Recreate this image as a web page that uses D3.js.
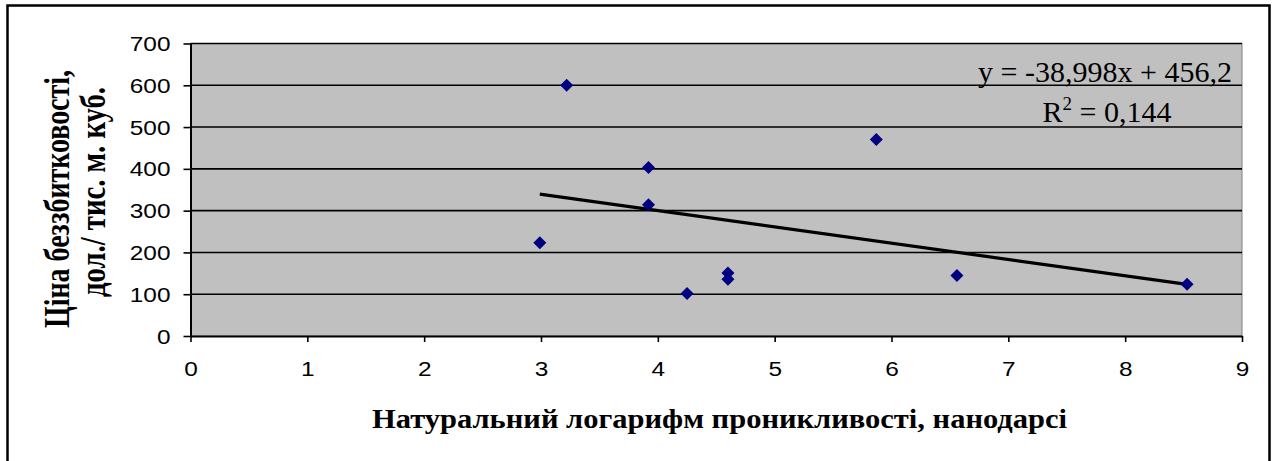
<!DOCTYPE html>
<html><head><meta charset="utf-8">
<script src="https://cdn.jsdelivr.net/npm/d3@7"></script>
<style>html,body{margin:0;padding:0;background:#fff;}svg{display:block;}</style>
</head><body>
<svg id="c" width="1273" height="461"></svg>
<script>
// ---- data ----
const xValues = [2.99, 3.22, 3.92, 3.92, 4.25, 4.60, 4.60, 5.87, 6.56, 8.53];
const yValues = [223, 600, 403, 314, 102, 151, 136, 470, 145, 124];
const xTickValues = [0, 1, 2, 3, 4, 5, 6, 7, 8, 9];
const yTickValues = [0, 100, 200, 300, 400, 500, 600, 700];
const trendCoef = [-38.998, 456.2]; // slope, intercept
const eqLine1 = "y = -38,998x + 456,2";
const eqR2 = "0,144";
const xTitle = "Натуральний логарифм проникливості, нанодарсі";
const yTitle = ["Ціна беззбитковості,", "дол./ тис. м. куб."];

// ---- layout ----
const svg = d3.select("#c");
const L = 190.5, R = 1242, T = 43.5, B = 336;
const x = d3.scaleLinear().domain([0, 9]).range([L, R]);
const y = d3.scaleLinear().domain([0, 700]).range([B, T]);
const stretch = 1.22;
const sans = "'Liberation Sans', Arial, sans-serif";
const serif = "'Liberation Serif', 'Times New Roman', serif";

// outer frame
svg.append("rect").attr("x", 7.5).attr("y", 5.5).attr("width", 1262).attr("height", 470)
  .attr("fill", "#fff").attr("stroke", "#000").attr("stroke-width", 2.5);

// plot area
svg.append("rect").attr("x", L).attr("y", T).attr("width", R - L).attr("height", B - T)
  .attr("fill", "#C0C0C0").attr("stroke", "#808080").attr("stroke-width", 1);

// gridlines
svg.append("g").selectAll("line").data(yTickValues.filter(d => d > 0)).join("line")
  .attr("x1", L).attr("x2", R).attr("y1", d => y(d)).attr("y2", d => y(d))
  .attr("stroke", "#000").attr("stroke-width", 1.6);

// axes
const gx = svg.append("g").attr("transform", `translate(0,${B})`)
  .call(d3.axisBottom(x).tickValues(xTickValues).tickSize(6).tickPadding(20).tickSizeOuter(0));
const gy = svg.append("g").attr("transform", `translate(${L},0)`)
  .call(d3.axisLeft(y).tickValues(yTickValues).tickSize(7).tickPadding(13).tickSizeOuter(0));
[gx, gy].forEach(g => {
  g.select(".domain").attr("stroke", "#000").attr("stroke-width", 2);
  g.selectAll(".tick line").attr("stroke", "#000").attr("stroke-width", 1.6);
  g.selectAll("text").attr("font-family", sans).attr("font-size", 20).attr("fill", "#000");
});
gx.selectAll("text").attr("dy", "0.71em");
gy.selectAll("text").attr("dy", "0.35em");
[gx, gy].forEach(g => g.selectAll("text").each(function () {
  const w = this.getComputedTextLength();
  d3.select(this).attr("textLength", w * stretch).attr("lengthAdjust", "spacingAndGlyphs");
}));

// trendline
const xmin = d3.min(xValues), xmax = d3.max(xValues);
svg.append("line")
  .attr("x1", x(xmin)).attr("y1", y(trendCoef[0] * xmin + trendCoef[1]))
  .attr("x2", x(xmax)).attr("y2", y(trendCoef[0] * xmax + trendCoef[1]))
  .attr("stroke", "#000").attr("stroke-width", 3.2);

// markers
svg.append("g").selectAll("path").data(xValues.map((v, i) => [v, yValues[i]])).join("path")
  .attr("transform", d => `translate(${x(d[0])},${y(d[1])})`)
  .attr("d", "M0,-6.5L6.5,0L0,6.5L-6.5,0Z")
  .attr("fill", "#000080");

// equation label
const eq = svg.append("g").attr("font-family", serif).attr("font-size", 30).attr("fill", "#000")
  .attr("text-anchor", "middle");
eq.append("text").attr("x", 1105).attr("y", 82).text(eqLine1);
const r2 = eq.append("text").attr("x", 1107).attr("y", 122);
r2.append("tspan").text("R");
r2.append("tspan").attr("font-size", 19).attr("dy", -12).text("2");
r2.append("tspan").attr("dy", 12).text(" = " + eqR2);

// x title
svg.append("text").attr("x", 719.5).attr("y", 428).attr("text-anchor", "middle")
  .attr("font-family", serif).attr("font-weight", "bold").attr("font-size", 28)
  .attr("textLength", 695).attr("lengthAdjust", "spacingAndGlyphs").text(xTitle);

// y title (two lines), glyphs widened horizontally like the reference
const yt = [[69, 199, 258], [105, 192, 210]];
yTitle.forEach((t, i) => {
  svg.append("text")
    .attr("transform", `translate(${yt[i][0]},${yt[i][1]}) scale(1.28,1) rotate(-90)`)
    .attr("text-anchor", "middle")
    .attr("font-family", serif).attr("font-weight", "bold").attr("font-size", 28)
    .attr("textLength", yt[i][2]).attr("lengthAdjust", "spacingAndGlyphs").text(t);
});
</script>
</body></html>
